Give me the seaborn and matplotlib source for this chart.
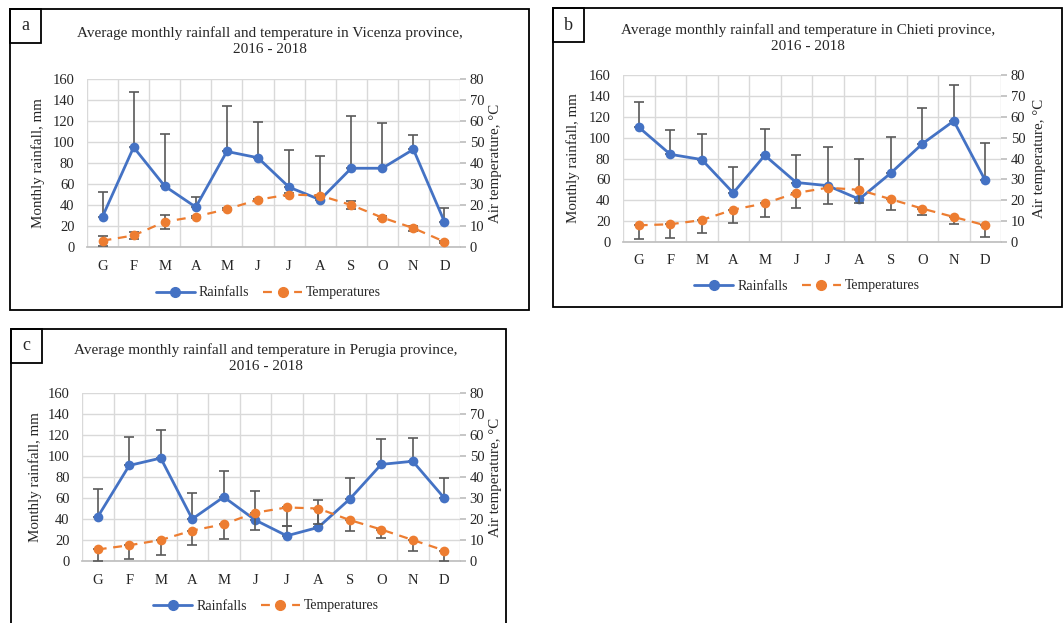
import matplotlib
matplotlib.use('Agg')
import matplotlib.pyplot as plt
from matplotlib.lines import Line2D
from matplotlib.patches import Rectangle
import numpy as np
import seaborn as sns

# --- Data ---
months = ['G', 'F', 'M', 'A', 'M', 'J', 'J', 'A', 'S', 'O', 'N', 'D']

# a - Vicenza
vic_rain = [29, 95, 58, 38, 91, 85, 57, 45, 75, 75, 93, 24]
vic_rain_err = [23, 53, 50, 10, 43, 34, 35, 42, 50, 43, 14, 13]
vic_temp = [3, 5.5, 12, 14.5, 18, 22.5, 25, 24.5, 20, 14, 9, 2.5]
vic_temp_err_lo = [2.3, 1.5, 3.3, 0.5, 0.5, 0.5, 0.5, 0.5, 1.7, 0.6, 1.2, 0.5]
vic_temp_err_hi = [2.3, 1.5, 3.3, 0.5, 0.5, 0.5, 0.5, 0.5, 1.7, 0.6, 1.2, 0.5]

# b - Chieti
chi_rain = [110, 84, 79, 47, 83, 57, 54, 41, 66, 94, 116, 59]
chi_rain_err = [24, 23, 24, 25, 25, 26, 37, 39, 35, 34, 34, 36]
chi_temp = [8, 8.5, 10.5, 15.5, 18.5, 23.5, 26, 25, 20.5, 16, 12, 8]
chi_temp_err_lo = [6.5, 6.5, 6, 6.5, 6.5, 7, 8, 6.5, 5, 3, 3.5, 5.5]
chi_temp_err_hi = [0, 0, 0, 0, 0, 0, 0, 0, 0, 0, 0, 0]

# c - Perugia
per_rain = [42, 91, 98, 40, 61, 39, 24, 32, 59, 92, 95, 60]
per_rain_err = [27, 27, 27, 25, 25, 28, 9, 26, 20, 24, 22, 19]
per_temp = [5.5, 7.5, 10, 14.5, 17.5, 23, 25.5, 25, 19.5, 15, 10, 5]
per_temp_err_lo = [5.5, 6.5, 7, 7, 7, 8, 9, 7.5, 5, 4, 5, 5]
per_temp_err_hi = [0, 0, 0, 0, 0, 0, 0, 0, 0, 0, 0, 0]

BLUE = '#4472C4'
ORANGE = '#ED7D31'
ERR = '#595959'
GRID = '#D9D9D9'
FONT = 'Liberation Serif'

sns.set_theme(style='white')
plt.rcParams['font.family'] = [FONT, 'DejaVu Serif']

W, H = 1063, 623
fig = plt.figure(figsize=(W / 100, H / 100), dpi=100)


def fx(px):
    return px / W


def fy(py):
    return 1 - py / H


def box(x0, y0, x1, y1, lw=1.3):
    fig.patches.append(Rectangle((fx(x0), fy(y1)), fx(x1) - fx(x0), fy(y0) - fy(y1),
                                 transform=fig.transFigure, fill=False,
                                 edgecolor='black', linewidth=lw))


def panel(letter, province, rain, rain_err, temp, t_lo, t_hi,
          frame, plot, title_xy, legend_y, ylab_x, y2lab_x):
    x0, y0, x1, y1 = frame
    box(x0, y0, x1, y1)
    box(x0, y0, x0 + 31, y0 + 34)
    fig.text(fx(x0 + 15.5), fy(y0 + 17), letter, ha='center', va='center', fontsize=13)
    fig.text(fx(title_xy[0]), fy(title_xy[1]),
             f'Average monthly rainfall and temperature in {province} province,\n2016 - 2018',
             ha='center', va='center', fontsize=11, linespacing=1.3)

    l, t, r, b = plot
    ax = fig.add_axes([fx(l), fy(b), fx(r) - fx(l), fy(t) - fy(b)])
    ax2 = ax.twinx()
    pos = np.arange(len(months))

    ax.errorbar(pos, rain, yerr=[np.zeros(len(rain)), rain_err], fmt='none',
                ecolor=ERR, elinewidth=1.2, capsize=3.5, capthick=1.2, zorder=2)
    sns.lineplot(x=pos, y=rain, ax=ax, color=BLUE, marker='o', markersize=7,
                 markeredgewidth=0, linewidth=2, zorder=3)

    ax2.errorbar(pos, temp, yerr=[t_lo, t_hi], fmt='none',
                 ecolor=ERR, elinewidth=1.2, capsize=3.5, capthick=1.2, zorder=2)
    sns.lineplot(x=pos, y=temp, ax=ax2, color=ORANGE, marker='o', markersize=7,
                 markeredgewidth=0, linewidth=1.6, linestyle=(0, (4, 3)), zorder=3)

    ax.set_xlim(-0.5, 11.5)
    ax.set_ylim(0, 160)
    ax2.set_ylim(0, 80)
    ax.set_yticks(range(0, 161, 20))
    ax2.set_yticks(range(0, 81, 10))
    ax.set_xticks(pos)
    ax.set_xticklabels(months)
    ax.set_xticks(np.arange(-0.5, 12, 1), minor=True)
    ax.grid(False)
    ax2.grid(False)
    ax.grid(True, which='major', axis='y', color=GRID, linewidth=1)
    ax.grid(True, which='minor', axis='x', color=GRID, linewidth=1)
    for a in (ax, ax2):
        for s in a.spines.values():
            s.set_visible(False)
    ax.spines['bottom'].set_visible(True)
    ax.spines['bottom'].set_color('#BFBFBF')
    ax.tick_params(axis='both', which='both', length=0, labelsize=10.5, colors='#262626')
    ax.tick_params(axis='x', pad=9)
    ax.tick_params(axis='y', pad=9)
    ax2.tick_params(axis='y', length=4, color='#BFBFBF', labelsize=10.5,
                    labelcolor='#262626', pad=3)
    ax.set_ylabel('')
    ax2.set_ylabel('')
    ax.set_xlabel('')

    mid_y = (t + b) / 2
    fig.text(fx(ylab_x), fy(mid_y), 'Monthly rainfall, mm', rotation=90,
             ha='center', va='center', fontsize=10.8, color='#262626')
    fig.text(fx(y2lab_x), fy(mid_y), 'Air temperature, °C', rotation=90,
             ha='center', va='center', fontsize=10.8, color='#262626')

    handles = [Line2D([], [], color=BLUE, marker='o', markersize=7, linewidth=2),
               Line2D([], [], color=ORANGE, marker='o', markersize=7, linewidth=1.6,
                      linestyle=(0, (4, 3)))]
    fig.legend(handles, ['Rainfalls', 'Temperatures'], loc='center',
               bbox_to_anchor=(fx((l + r) / 2 - 5), fy(legend_y)), ncol=2,
               frameon=False, fontsize=10, handlelength=2.8, columnspacing=1.0,
               handletextpad=0.3)


panel('a', 'Vicenza', vic_rain, vic_rain_err, vic_temp, vic_temp_err_lo, vic_temp_err_hi,
      frame=(10, 9, 529, 310), plot=(87, 79, 460, 247), title_xy=(270, 41),
      legend_y=293, ylab_x=38, y2lab_x=495)
panel('b', 'Chieti', chi_rain, chi_rain_err, chi_temp, chi_temp_err_lo, chi_temp_err_hi,
      frame=(553, 8, 1062, 307), plot=(623, 75, 1001, 242), title_xy=(808, 38),
      legend_y=286, ylab_x=573, y2lab_x=1039)
panel('c', 'Perugia', per_rain, per_rain_err, per_temp, per_temp_err_lo, per_temp_err_hi,
      frame=(11, 329, 506, 640), plot=(82, 393, 460, 561), title_xy=(266, 358),
      legend_y=606, ylab_x=35, y2lab_x=495)

fig.savefig('out.png', dpi=100, facecolor='white')
